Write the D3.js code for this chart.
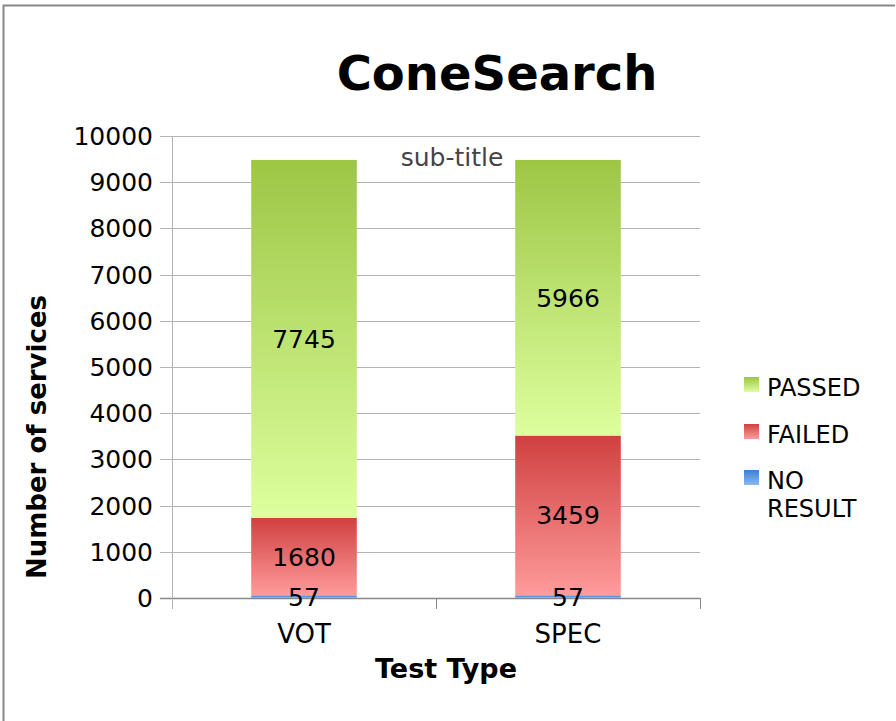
<!DOCTYPE html>
<html>
<head>
<meta charset="utf-8">
<script src="https://cdn.jsdelivr.net/npm/d3@7"></script>
<style>
body{margin:0;background:#fff;}
text{font-family:"DejaVu Sans",sans-serif;}
</style>
</head>
<body>
<svg id="chart" width="896" height="721"></svg>
<script>
var categories = ["VOT","SPEC"];
var seriesNames = ["NO RESULT","FAILED","PASSED"];
var noResult = [57,57];
var failed = [1680,3459];
var passed = [7745,5966];
var yTicks = [0,1000,2000,3000,4000,5000,6000,7000,8000,9000,10000];

var svg = d3.select("#chart");
var x = d3.scaleBand().domain(categories).range([172,700]).paddingInner(0.6).paddingOuter(0.3);
var y = d3.scaleLinear().domain([0,10000]).range([598,136]);

// frame
svg.append("path").attr("d","M3.5,721V5.5H895").attr("fill","none").attr("stroke","#888").attr("stroke-width",2);

var defs = svg.append("defs");
var grads = [["g0","#3d7fd6","#8ab8f4"],["g1","#d04040","#ff9b9b"],["g2","#9dc645","#ddff9e"]];
grads.forEach(function(g){
    var lg = defs.append("linearGradient").attr("id",g[0]).attr("x1",0).attr("y1",0).attr("x2",0).attr("y2",1);
    lg.append("stop").attr("offset","0%").attr("stop-color",g[1]);
    lg.append("stop").attr("offset","100%").attr("stop-color",g[2]);
});

// gridlines + y ticks
svg.selectAll("line.grid").data(yTicks).enter().append("line")
    .attr("x1",160).attr("x2",700)
    .attr("y1",function(d){return Math.round(y(d))+0.5;})
    .attr("y2",function(d){return Math.round(y(d))+0.5;})
    .attr("stroke",function(d){return d==0?"#888":"#b3b3b3";})
    .attr("stroke-width",function(d){return d==0?1.5:1;});

svg.selectAll("text.ytick").data(yTicks).enter().append("text")
    .attr("x",153).attr("y",function(d){return y(d)+9;})
    .attr("text-anchor","end").attr("font-size",25).attr("fill","#000")
    .text(function(d){return d;});

// y axis line and category boundary ticks
svg.append("line").attr("x1",172.5).attr("x2",172.5).attr("y1",136).attr("y2",609).attr("stroke","#b3b3b3");
[436,700].forEach(function(px){
    svg.append("line").attr("x1",px+0.5).attr("x2",px+0.5).attr("y1",598).attr("y2",609).attr("stroke","#888");
});

// stacked bars
var rows = categories.map(function(c,i){return {cat:c,"NO RESULT":noResult[i],"FAILED":failed[i],"PASSED":passed[i]};});
var stack = d3.stack().keys(seriesNames)(rows);

stack.forEach(function(layer,k){
    svg.selectAll("rect.s"+k).data(layer).enter().append("rect")
        .attr("x",function(d){return x(d.data.cat);})
        .attr("width",x.bandwidth())
        .attr("y",function(d){return y(d[1]);})
        .attr("height",function(d){return y(d[0])-y(d[1]);})
        .attr("fill","url(#g"+k+")");
});
stack.forEach(function(layer,k){
    svg.selectAll("text.l"+k).data(layer).enter().append("text")
        .attr("x",function(d){return x(d.data.cat)+x.bandwidth()/2;})
        .attr("y",function(d){return (y(d[0])+y(d[1]))/2+9;})
        .attr("text-anchor","middle").attr("font-size",25).attr("fill","#000")
        .text(function(d){return d[1]-d[0];});
});

// x tick labels
svg.selectAll("text.xtick").data(categories).enter().append("text")
    .attr("x",function(d){return x(d)+x.bandwidth()/2;}).attr("y",643)
    .attr("text-anchor","middle").attr("font-size",26).text(function(d){return d;});

// titles
svg.append("text").attr("x",497).attr("y",90).attr("text-anchor","middle")
    .attr("font-size",48).attr("font-weight","bold").text("ConeSearch");
svg.append("text").attr("x",452).attr("y",166).attr("text-anchor","middle")
    .attr("font-size",25).attr("fill","#444").attr("font-family","Liberation Sans, Arial, sans-serif").text("sub-title");
svg.append("text").attr("x",446).attr("y",678).attr("text-anchor","middle")
    .attr("font-size",27).attr("font-weight","bold").text("Test Type");
svg.append("text").attr("transform","translate(46,437) rotate(-90)").attr("text-anchor","middle")
    .attr("font-size",26).attr("font-weight","bold").text("Number of services");

// legend
var legend = [["PASSED",2,388],["FAILED",1,435],["NO",0,481]];
legend.forEach(function(l){
    svg.append("rect").attr("x",744).attr("y",l[2]-11).attr("width",15).attr("height",15).attr("fill","url(#g"+l[1]+")");
    svg.append("text").attr("x",767).attr("y",l[2]+8).attr("font-size",24).text(l[0]);
});
svg.append("text").attr("x",767).attr("y",517).attr("font-size",24).text("RESULT");
</script>
</body>
</html>
